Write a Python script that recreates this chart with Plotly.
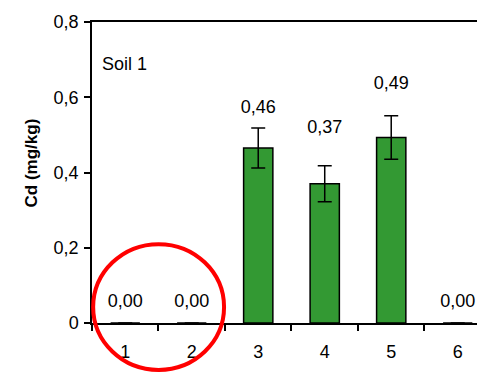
import plotly.graph_objects as go

categories = ["1", "2", "3", "4", "5", "6"]
cd_values = [0.0, 0.0, 0.465, 0.37, 0.493, 0.0]
cd_errors = [0.0, 0.0, 0.053, 0.048, 0.058, 0.0]
value_labels = ["0,00", "0,00", "0,46", "0,37", "0,49", "0,00"]
label_heights = [0.054, 0.054, 0.569, 0.516, 0.635, 0.054]
y_ticks = [0, 0.2, 0.4, 0.6, 0.8]
y_tick_text = ["0", "0,2", "0,4", "0,6", "0,8"]

FONT = "Liberation Sans, Arial, sans-serif"

fig = go.Figure()
fig.add_trace(go.Bar(
    x=categories, y=cd_values, width=0.44,
    marker=dict(color="#339933", line=dict(color="#000000", width=1.5)),
    error_y=dict(type="data", array=cd_errors, visible=True,
                 color="#000000", thickness=1.5, width=7),
    showlegend=False, hoverinfo="skip",
))
fig.add_trace(go.Scatter(
    x=categories, y=label_heights, mode="text", text=value_labels,
    textposition="middle center",
    textfont=dict(family=FONT, size=18, color="#000000"),
    showlegend=False, hoverinfo="skip", cliponaxis=False,
))

fig.update_layout(
    width=477, height=372,
    margin=dict(l=92, r=0, t=22, b=49, pad=0),
    paper_bgcolor="white", plot_bgcolor="white",
    separators=",.",
    font=dict(family=FONT, size=18, color="#000000"),
    xaxis=dict(
        type="category", range=[-0.5, 5.29],
        showline=True, linecolor="#000000", linewidth=1.5, mirror=True,
        ticks="outside", ticklen=6, tickwidth=1.5, tickcolor="#000000",
        tickson="boundaries", ticklabelstandoff=12,
        showgrid=False, zeroline=False,
        tickfont=dict(family=FONT, size=18),
    ),
    yaxis=dict(
        range=[0, 0.8], tickvals=y_ticks, ticktext=y_tick_text,
        showline=True, linecolor="#000000", linewidth=1.5,
        ticks="outside", ticklen=6, tickwidth=1.5, tickcolor="#000000",
        ticklabelstandoff=2,
        showgrid=False, zeroline=False,
        tickfont=dict(family=FONT, size=18),
    ),
    annotations=[
        dict(
            text="Soil 1", xref="paper", yref="paper", x=0, xshift=8, y=0.86,
            xanchor="left", yanchor="middle", showarrow=False,
            font=dict(family=FONT, size=18, color="#000000"),
        ),
        dict(
            text="<b>Cd (mg/kg)</b>", xref="paper", yref="paper", x=0, xshift=-61,
            y=0.53, xanchor="center", yanchor="middle", textangle=-90,
            showarrow=False, font=dict(family=FONT, size=17, color="#000000"),
        ),
    ],
    shapes=[dict(
        type="circle", xref="paper", yref="paper",
        x0=0.003, x1=0.343, y0=-0.156, y1=0.262,
        line=dict(color="#ff0000", width=4), fillcolor="rgba(0,0,0,0)",
    )],
)

fig.write_html("out.html")
